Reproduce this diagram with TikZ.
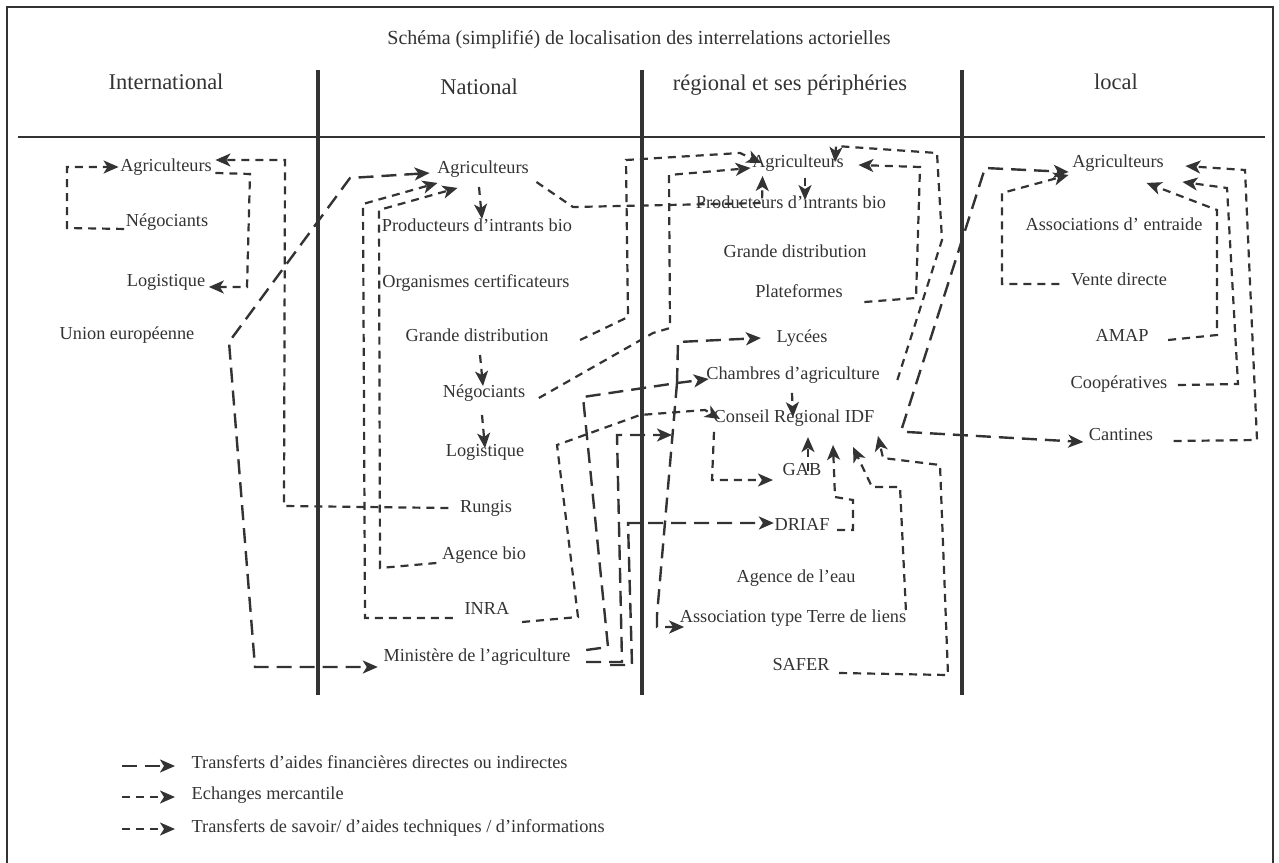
\documentclass[tikz,border=0pt]{standalone}
\usepackage{fontspec}
\setmainfont{Liberation Serif}
\usetikzlibrary{arrows.meta,calc}
\definecolor{ink}{HTML}{333333}
\begin{document}
\begin{tikzpicture}[x=1pt,y=-1pt,
  >={Stealth[length=15pt,width=13pt,inset=4pt]},
  lbl/.style={font=\fontsize{18.3}{21}\selectfont, text=ink, inner sep=1.5pt, text height=12.5pt, text depth=4pt},
  hdr/.style={font=\fontsize{22.5}{26}\selectfont, text=ink, inner sep=1.5pt},
  ttl/.style={font=\fontsize{20}{24}\selectfont, text=ink, inner sep=1.5pt},
  fin/.style={draw=ink, line width=2.4pt, dash pattern=on 15pt off 8pt},
  merc/.style={draw=ink, line width=2.2pt, dash pattern=on 8pt off 6pt},
  sepline/.style={draw=ink, line width=4pt},
  rule/.style={draw=ink, line width=2.6pt},
  frame/.style={draw=ink, line width=1.2pt}]
\useasboundingbox (0,0) rectangle (1279,862);

% frame, rules and columns
\draw[frame] (7,870) -- (7,7) -- (1273,7) -- (1273,870);
\draw[rule] (18,137) -- (1265,137);
\draw[sepline] (318,70) -- (318,695);
\draw[sepline] (642,70) -- (642,695);
\draw[sepline] (962,70) -- (962,695);

% headers
\node[ttl] (title) at (639,40) {Schéma (simplifié) de localisation des interrelations actorielles};
\node[hdr] (hInt) at (166,82) {International};
\node[hdr] (hNat) at (479,87) {National};
\node[hdr] (hReg) at (790,85) {régional et ses périphéries};
\node[hdr] (hLoc) at (1116,82) {local};

% International
\node[lbl] (iAgri) at (166,167) {Agriculteurs};
\node[lbl] (iNeg) at (167,222) {Négociants};
\node[lbl] (iLog) at (166,282) {Logistique};
\node[lbl] (iUE) at (127,335) {Union européenne};

% National
\node[lbl] (nAgri) at (483,169) {Agriculteurs};
\node[lbl] (nProd) at (477,227) {Producteurs d’intrants bio};
\node[lbl] (nOrg) at (476,283) {Organismes certificateurs};
\node[lbl] (nGD) at (477,337) {Grande distribution};
\node[lbl] (nNeg) at (484,393) {Négociants};
\node[lbl] (nLog) at (485,452) {Logistique};
\node[lbl] (nRung) at (486,508) {Rungis};
\node[lbl] (nAB) at (484,555) {Agence bio};
\node[lbl] (nINRA) at (487,610) {INRA};
\node[lbl] (nMin) at (477,657) {Ministère de l’agriculture};

% Regional
\node[lbl] (rAgri) at (798,163) {Agriculteurs};
\node[lbl] (rProd) at (791,204) {Producteurs d’intrants bio};
\node[lbl] (rGD) at (795,253) {Grande distribution};
\node[lbl] (rPlat) at (799,293) {Plateformes};
\node[lbl] (rLyc) at (802,338) {Lycées};
\node[lbl] (rCh) at (793,375) {Chambres d’agriculture};
\node[lbl] (rCons) at (794,418) {Conseil Regional IDF};
\node[lbl] (rGAB) at (802,471) {GAB};
\node[lbl] (rDRI) at (802,526) {DRIAF};
\node[lbl] (rEau) at (796,578) {Agence de l’eau};
\node[lbl] (rAss) at (793,618) {Association type Terre de liens};
\node[lbl] (rSAF) at (801,666) {SAFER};

% Local
\node[lbl] (lAgri) at (1118,163) {Agriculteurs};
\node[lbl] (lAss) at (1114,226) {Associations d’ entraide};
\node[lbl] (lVD) at (1119,281) {Vente directe};
\node[lbl] (lAMAP) at (1122,337) {AMAP};
\node[lbl] (lCoop) at (1119,384) {Coopératives};
\node[lbl] (lCant) at (1121,436) {Cantines};

% ---- International connectors
\draw[merc,->] ($(iNeg.south west)+(0,-3)$) -- (67,228) |- (iAgri.west);
\draw[merc,->] ($(iAgri.south east)+(2,-4)$) -- (250,174) -- (247,287) -- ($(iLog.east)+(2,5)$);
\draw[merc,->] ($(nRung.west)+(-10,0)$) -- (284,506) -- (285,160) -- ($(iAgri.east)+(2,-7)$);
\draw[fin,<->] ($(nAgri.west)+(-6,4)$) -- (350,178) -- (229,342) -- (255,667) -- ($(nMin.west)+(-4,10)$);

% ---- National connectors
\draw[merc,->] ($(nAgri.south)+(-4,8)$) -- ($(nProd.north)+(5,2)$);
\draw[merc,->] ($(nGD.south)+(3,8)$) -- ($(nNeg.north)+(-1,3)$);
\draw[merc,->] ($(nNeg.south)+(-2,12)$) -- ($(nLog.north)+(0,6)$);
\draw[merc,->] ($(nAgri.east)+(6,13)$) -- (573,207) -- (762,203) -- ($(rAgri.south west)+(12,3)$);
\draw[merc,->] ($(nAB.west)+(-4,8)$) -- (380,568) -- (379,210) -- ($(nAgri.south west)+(22,9)$);
\draw[merc,->] ($(nINRA.west)+(-10,8)$) -- (365,618) -- (363,204) -- ($(nAgri.south west)+(2,4)$);
\draw[merc,->] ($(nINRA.east)+(11,12)$) -- (578,617) -- (557,445) -- (640,415) -- (705,410) -- ($(rCons.west)+(8,1)$);
\draw[merc,->] ($(nGD.east)+(30,3)$) -- (628,317) -- (626,160) -- (740,153) -- ($(rAgri.west)+(11,0)$);
\draw[merc,->] ($(nNeg.east)+(12,5)$) -- (653,333) -- (670,328) -- (669,175) -- ($(rAgri.west)+(0,5)$);

% ---- Ministere (financial)
\coordinate (j1) at (677,383);
\coordinate (j2) at (672,435);
\draw[fin,->] ($(nMin.east)+(14,-7)$) -- (608,647) -- (583,397) -- (j1) -- ($(rCh.west)+(4,4)$);
\draw[fin,->] (j1) -- (678,342) -- ($(rLyc.west)+(-14,0)$);
\draw[fin,->] (j1) -- (657,615) -- (657,627) -- ($(rAss.west)+(6,9)$);
\draw[fin,->] ($(nMin.east)+(14,5)$) -- (622,662) -- (617,435) -- (j2);
\draw[fin,->] ($(nMin.east)+(38,8)$) -- (632,665) -- (628,523) -- ($(rDRI.west)+(1,-3)$);

% ---- Regional connectors
\draw[merc,->] ($(rAgri.south)+(7,5)$) -- ($(rProd.north)+(14,6)$);
\draw[merc,->] ($(rCons.south west)+(2,4)$) -- (712,480) -- ($(rGAB.west)+(-8,9)$);
\draw[merc,->] ($(rPlat.east)+(20,9)$) -- (916,298) -- (920,167) -- ($(rAgri.east)+(13,2)$);
\draw[merc,->] ($(rCh.east)+(16,5)$) -- (942,240) -- (937,153) -- (836,146) -- ($(rAgri.north)+(37,9)$);
\draw[merc,->] ($(rSAF.east)+(8,7)$) -- (948,675) -- (940,465) -- (883,458) -- ($(rCons.south east)+(2,8)$);
\draw[merc,->] ($(rAss.east)+(-2,-8)$) -- (900,487) -- (872,487) -- ($(rCons.south east)+(-23,19)$);
\draw[merc,->] ($(rDRI.east)+(6,4)$) -- (853,530) -- (853,500) -- (835,497) -- ($(rCons.south)+(39,17)$);
\draw[merc,->] ($(rGAB.center)+(6,0)$) -- ($(rGAB.north)+(6,-24)$);
\draw[merc,->] ($(rCh.south)+(-1,8)$) -- ($(rCons.north)+(-1,9)$);
\draw[fin,->] ($(rCons.east)+(26,10)$) -- (985,168) -- ($(lAgri.west)+(-2,9)$);
\draw[fin,->] ($(rCons.east)+(31,14)$) -- ($(lCant.west)+(-4,6)$);

% ---- Local connectors
\draw[merc,->] ($(lVD.west)+(-10,3)$) -- (1002,284) -- (1002,193) -- ($(lAgri.south west)+(-2,2)$);
\draw[merc,->] ($(lAMAP.east)+(18,3)$) -- (1217,335) -- (1217,210) -- ($(lAgri.south east)+(-19,10)$);
\draw[merc,->] ($(lCoop.east)+(9,1)$) -- (1238,384) -- (1227,188) -- ($(lAgri.south east)+(17,9)$);
\draw[merc,->] ($(lCant.east)+(19,5)$) -- (1257,440) -- (1245,170) -- ($(lAgri.east)+(20,3)$);

% ---- Legend
\coordinate (la1) at (122,766); \coordinate (lb1) at (175,766);
\coordinate (la2) at (122,797); \coordinate (lb2) at (175,797);
\coordinate (la3) at (122,829); \coordinate (lb3) at (175,829);
\draw[fin,->] (la1) -- (lb1);
\draw[merc,->] (la2) -- (lb2);
\draw[merc,->] (la3) -- (lb3);
\node[lbl,anchor=west] (lt1) at (190,764) {Transferts d’aides financières directes ou indirectes};
\node[lbl,anchor=west] (lt2) at (190,795) {Echanges mercantile};
\node[lbl,anchor=west] (lt3) at (190,828) {Transferts de savoir/ d’aides techniques / d’informations};
\end{tikzpicture}
\end{document}
